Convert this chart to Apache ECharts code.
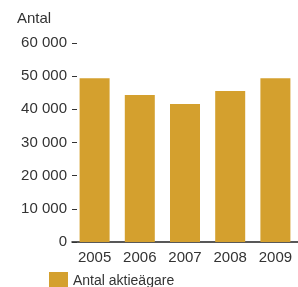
<!DOCTYPE html>
<html>
<head>
<meta charset="utf-8">
<script src="https://cdn.jsdelivr.net/npm/echarts@6/dist/echarts.min.js"></script>
<style>
  html, body { margin: 0; padding: 0; background: #fff; }
  #chart { width: 298px; height: 287px; }
</style>
</head>
<body>
<div id="chart"></div>
<script>
// data
const years = ['2005', '2006', '2007', '2008', '2009'];
const shareholders = [49400, 44300, 41600, 45500, 49400];
const seriesName = 'Antal aktieägare';

const chart = echarts.init(document.getElementById('chart'));
const font = '"Liberation Sans", Arial, sans-serif';

const option = {
    animation: false,
    title: {
        text: 'Antal',
        left: 12,
        top: 6,
        textStyle: { fontFamily: font, fontSize: 15, fontWeight: 'normal', color: '#333' }
    },
    legend: {
        data: [seriesName],
        left: 44,
        top: 267,
        itemWidth: 19,
        itemHeight: 19,
        icon: 'rect',
        textStyle: { fontFamily: font, fontSize: 14, color: '#333', padding: [6, 0, 0, 0] }
    },
    grid: { left: 72, right: -3, top: 43, bottom: 45 },
    xAxis: {
        type: 'category',
        data: years,
        axisLine: { lineStyle: { color: '#222', width: 1.5 } },
        axisTick: { show: false },
        axisLabel: { fontFamily: font, fontSize: 15, color: '#333', margin: 8 }
    },
    yAxis: {
        type: 'value',
        min: 0,
        max: 60000,
        interval: 10000,
        offset: -5,
        splitLine: { show: false },
        axisLine: { show: false },
        axisTick: { show: true, length: 5, lineStyle: { color: '#333', width: 1 } },
        axisLabel: {
            fontFamily: font, fontSize: 15, color: '#333', margin: 10,
            formatter: v => v === 0 ? '0' : (v / 1000) + ' 000'
        }
    },
    series: [{
        name: seriesName,
        type: 'bar',
        data: shareholders,
        barWidth: 30,
        itemStyle: { color: '#D4A02E' }
    }]
};

chart.setOption(option);
</script>
</body>
</html>
